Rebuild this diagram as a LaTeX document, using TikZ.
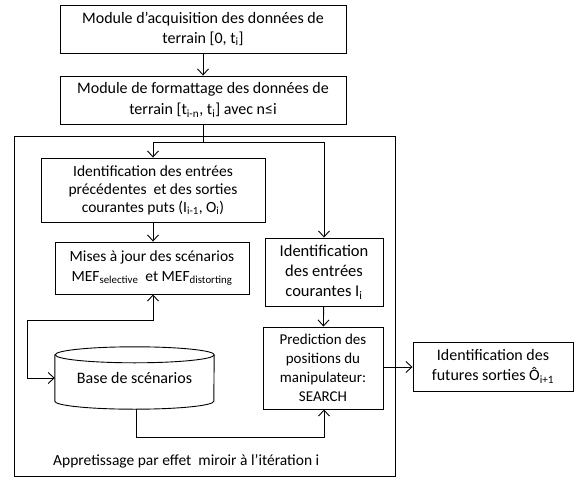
\documentclass[tikz,border=0pt]{standalone}
\usepackage{fontspec}
\setmainfont{Carlito}
\usetikzlibrary{arrows.meta}
\tikzset{
  box/.style={draw, line width=0.9pt, rectangle, inner sep=0pt, align=center, font=\fontsize{15.5}{19.5}\selectfont},
  tip/.tip={Straight Barb[length=6pt,width=11pt]},
  conn/.style={line width=0.9pt, -tip},
  plain/.style={line width=0.9pt},
}
\newcommand{\sbx}[1]{\textsubscript{#1}}
\begin{document}
\begin{tikzpicture}[x=1pt,y=-1pt]
\useasboundingbox (0,0) rectangle (574,477);
% outer frame
\draw[plain] (14,136) rectangle (395,476);
\node[box, font=\fontsize{16}{20}\selectfont, minimum width=286pt, minimum height=48pt] (b1) at (203,29) {Module d'acquisition des données de\\terrain [0, t\sbx{i}]};
\node[box, font=\fontsize{16}{21}\selectfont, minimum width=286pt, minimum height=48pt] (b2) at (203,100) {Module de formattage des données de\\terrain [t\sbx{i-n}, t\sbx{i}] avec n≤i};
\node[box, font=\fontsize{15.5}{18}\selectfont, minimum width=224pt, minimum height=64pt] (b3) at (153,190) {Identification des entrées\\précédentes \ et des sorties\\courantes puts (I\sbx{i-1}, O\sbx{i})};
\node[box, font=\fontsize{15.5}{20}\selectfont, minimum width=194pt, minimum height=52pt] (b4) at (152,268) {Mises à jour des scénarios\\MEF\sbx{selective} \ et MEF\sbx{distorting}};
\node[box, font=\fontsize{16.5}{20}\selectfont, minimum width=118pt, minimum height=68pt] (b5) at (324,272) {Identification\\des entrées\\courantes I\sbx{i}};
\node[box, font=\fontsize{15}{19}\selectfont, minimum width=120pt, minimum height=82pt] (b6) at (323,368) {Prediction des\\positions du\\manipulateur:\\SEARCH};
\node[box, font=\fontsize{16}{20}\selectfont, minimum width=160pt, minimum height=49pt] (b7) at (493,366.5) {Identification des\\futures sorties Ô\sbx{i+1}};
% cylinder
\node[inner sep=0pt, minimum width=159pt, minimum height=62pt, font=\fontsize{16}{20}\selectfont] (base) at (134.5,378) {\raisebox{-6pt}{Base de scénarios}};
\draw[plain] ([yshift=-8pt]base.north west) -- ([yshift=8pt]base.south west)
  arc[start angle=180, end angle=360, x radius=79.5pt, y radius=8pt]
  -- ([yshift=-8pt]base.north east)
  arc[start angle=0, end angle=180, x radius=79.5pt, y radius=8pt] -- cycle;
\draw[plain] ([yshift=-8pt]base.north east) arc[start angle=0, end angle=-180, x radius=79.5pt, y radius=8pt];
\coordinate (j) at (203,142);
\coordinate (lp) at (27,320);
% connectors
\draw[conn] (b1) -- (b2);
\draw[plain] (b2.south -| j) -- (j);
\draw[conn] (j) -| (b3.north -| 153,0);
\draw[conn] (j) -| (b5.north);
\draw[conn] (b3.south -| 153,0) -- (b4.north -| 153,0);
\draw[conn] (b5) -- (b6);
\draw[conn] (b6.east |- 0,367) -- (b7.west |- 0,367);
\draw[tip-tip, line width=0.9pt] (b4.south -| 153,0) |- (lp) |- (base.west |- 0,378);
\draw[conn] (base.south -| 136,0) |- (324,437) -- (b6.south -| 324,0);
\node[anchor=base west, font=\fontsize{15.5}{20}\selectfont, inner sep=0pt] (lbl) at (53,465) {Appretissage par effet \ miroir à l'itération i};
\end{tikzpicture}
\end{document}
